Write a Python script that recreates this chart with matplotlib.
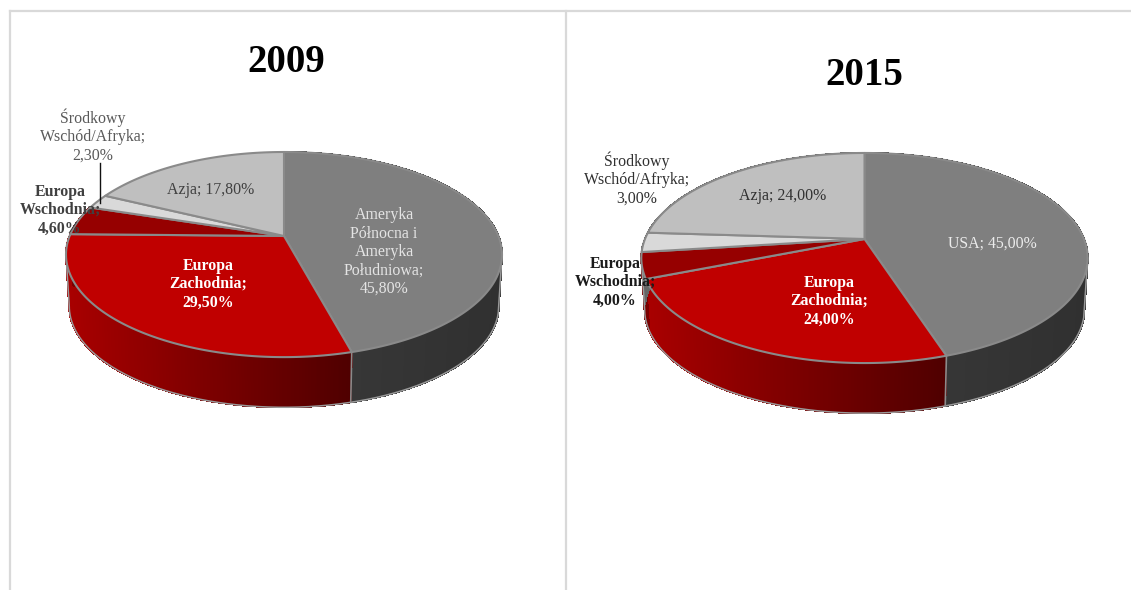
import numpy as np
import matplotlib
matplotlib.use("Agg")
import matplotlib.pyplot as plt
from matplotlib.collections import PolyCollection
from matplotlib.colors import LinearSegmentedColormap
from matplotlib.patches import Polygon

plt.rcParams["font.family"] = ["Liberation Serif", "DejaVu Serif"]

# Shares per region, in percent
years = ["2009", "2015"]
categories_2009 = ["Ameryka\nPółnocna i\nAmeryka\nPołudniowa", "Europa\nZachodnia", "Europa\nWschodnia",
                   "Środkowy\nWschód/Afryka", "Azja"]
values_2009 = [45.8, 29.5, 4.6, 2.3, 17.8]
categories_2015 = ["USA", "Europa\nZachodnia", "Europa\nWschodnia", "Środkowy\nWschód/Afryka", "Azja"]
values_2015 = [45.0, 24.0, 4.0, 3.0, 24.0]

top_colors = ["#7f7f7f", "#c00000", "#960000", "#d9d9d9", "#bfbfbf"]
wall_maps = [
    LinearSegmentedColormap.from_list("w0", ["#3a3a3a", "#303030"]),
    LinearSegmentedColormap.from_list("w1", ["#a80000", "#4f0000"]),
    LinearSegmentedColormap.from_list("w2", ["#7a0000", "#7a0000"]),
    LinearSegmentedColormap.from_list("w3", ["#666666", "#666666"]),
    LinearSegmentedColormap.from_list("w4", ["#666666", "#666666"]),
]
EDGE = "#8a8a8a"


def project(theta, apex, radius, tilt, persp, scale=1.0, drop=0.0):
    """Perspective view of a point on the disc rim; theta runs clockwise from the top."""
    u, v = np.sin(theta), np.cos(theta)
    d = 1 + persp * v
    return apex[0] + scale * radius * u / d, apex[1] - scale * tilt * v / d + drop


def draw_pie(ax, values, apex, radius, tilt, persp=0.181, depth=52, wall_scale=0.985):
    edges = np.radians(np.concatenate([[0], np.cumsum(values)]) * 3.6)

    # Side wall, painted as thin quads so the shading follows x
    for i in range(len(values)):
        if edges[i + 1] < np.pi / 2 or edges[i] > 3 * np.pi / 2 + 0.2:
            continue
        th = np.linspace(edges[i], edges[i + 1], max(int(np.degrees(edges[i + 1] - edges[i])), 2) * 3)
        xt, yt = project(th, apex, radius, tilt, persp)
        xb, yb = project(th, apex, radius, tilt, persp, wall_scale, depth)
        quads = [[(xt[j], yt[j]), (xt[j + 1], yt[j + 1]), (xb[j + 1], yb[j + 1]), (xb[j], yb[j])]
                 for j in range(len(th) - 1)]
        span = max(xt.max() - xt.min(), 1)
        colors = [wall_maps[i]((xt[j] - xt.min()) / span) for j in range(len(th) - 1)]
        ax.add_collection(PolyCollection(quads, facecolors=colors, edgecolors=colors, linewidths=0.8,
                                         antialiaseds=False, zorder=2))

    # Soft outline around the wall: lower rim plus the two silhouette tangents
    full = np.linspace(0, 2 * np.pi, 1441)
    xt, yt = project(full, apex, radius, tilt, persp)
    xb, yb = project(full, apex, radius, tilt, persp, wall_scale, depth)
    hi, lo = np.argmax(xb), np.argmin(xb)
    outline_x = np.r_[xt[np.argmax(xt)], xb[hi:lo + 1], xt[np.argmin(xt)]]
    outline_y = np.r_[yt[np.argmax(xt)], yb[hi:lo + 1], yt[np.argmin(xt)]]
    ax.plot(outline_x, outline_y, color="#9a9a9a", lw=1.1, zorder=2.5)

    # Wall seam where the first two regions meet
    xt, yt = project(edges[1], apex, radius, tilt, persp)
    xb, yb = project(edges[1], apex, radius, tilt, persp, wall_scale, depth)
    ax.plot([xt, xb], [yt, yb], color=EDGE, lw=1.2, zorder=2.6)

    # Top face
    for i in range(len(values)):
        th = np.linspace(edges[i], edges[i + 1], 200)
        x, y = project(th, apex, radius, tilt, persp)
        pts = np.column_stack([np.r_[apex[0], x], np.r_[apex[1], y]])
        ax.add_patch(Polygon(pts, closed=True, facecolor=top_colors[i], edgecolor=EDGE, lw=1.5,
                             joinstyle="round", zorder=3))


def label_text(category, value):
    return f"{category};\n{value:.2f}%".replace(".", ",")


fig = plt.figure(figsize=(11.31, 5.9), dpi=100, facecolor="white")
ax = fig.add_axes([0, 0, 1, 1])
ax.set_xlim(0, 1131)
ax.set_ylim(590, 0)
ax.axis("off")

# Chart frames
FRAME = "#d9d9d9"
ax.plot([9.5, 9.5], [590, 11], color=FRAME, lw=1.6, zorder=1)
ax.plot([9.5, 1131], [11, 11], color=FRAME, lw=1.6, zorder=1)
ax.plot([565.5, 565.5], [11, 590], color=FRAME, lw=1.6, zorder=1)

draw_pie(ax, values_2009, (284, 236), 214.4, 99.2)
draw_pie(ax, values_2015, (864.5, 239), 219.5, 101.6)

ax.text(286, 63, years[0], fontsize=28, fontweight="bold", ha="center", va="center", color="black", zorder=6)
ax.text(864.5, 75.5, years[1], fontsize=28, fontweight="bold", ha="center", va="center", color="black", zorder=6)

# Leader line from the Middle East label to its slice
ax.plot([100, 100], [163, 203], color="#111111", lw=1.0, zorder=5)

LABEL = 11.4
style_2009 = [
    (384, 252, "#e4e4e4", "normal"),
    (208, 284, "white", "bold"),
    (60, 210, "#404040", "bold"),
    (93, 136, "#595959", "normal"),
    (211, 190, "#404040", "normal"),
]
style_2015 = [
    (992, 244, "#ececec", "normal"),
    (829, 301, "white", "bold"),
    (615, 282, "#1a1a1a", "bold"),
    (637, 179, "#303030", "normal"),
    (783, 196, "#303030", "normal"),
]
for cats, vals, styles in [(categories_2009, values_2009, style_2009), (categories_2015, values_2015, style_2015)]:
    for c, v, (x, y, col, weight) in zip(cats, vals, styles):
        txt = label_text(c, v)
        if "\n" not in c:
            txt = txt.replace(";\n", "; ")
        ax.text(x, y, txt, fontsize=LABEL, color=col, fontweight=weight, ha="center", va="center",
                linespacing=1.2, zorder=6)

fig.savefig("out.png", dpi=100, facecolor="white")
